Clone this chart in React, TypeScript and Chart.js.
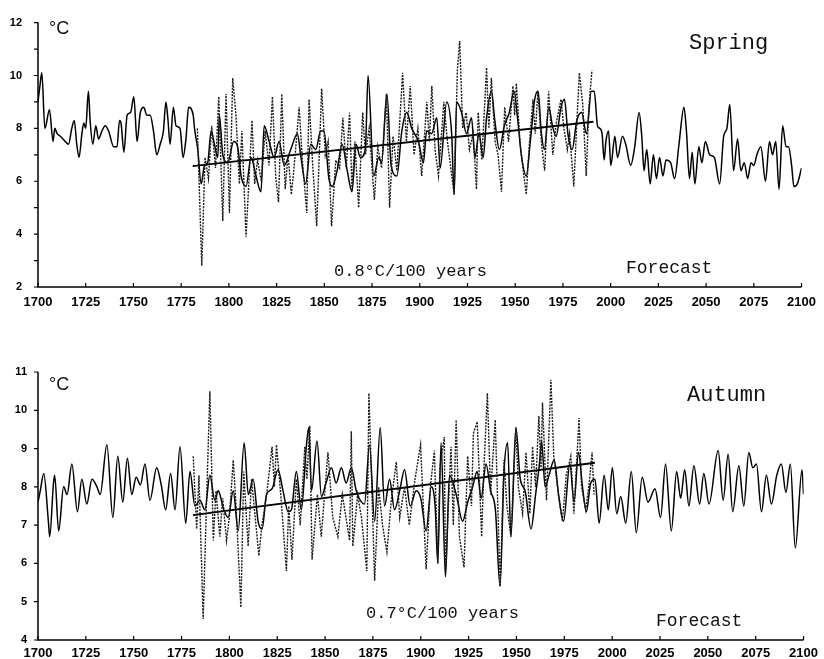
import React, { useEffect, useRef } from "react";
import { Chart, registerables } from "chart.js";

Chart.register(...registerables);

type Pt = [number, number];

// x-axis tick years (every 25 years)
const yearTicks: number[] = [1700, 1725, 1750, 1775, 1800, 1825, 1850, 1875, 1900, 1925, 1950, 1975, 2000, 2025, 2050, 2075, 2100];

// ---------------- Spring ----------------
const springModel: Pt[] = [
  [1700, 9.0], [1701, 9.6], [1702, 10.1], [1703.6, 8.0], [1706, 8.7], [1707.9, 7.5], [1708.8, 8.0], [1710, 7.8],
  [1711.7, 7.7], [1713, 7.6], [1714.3, 7.5], [1716, 7.4], [1717.7, 8.0], [1719, 8.3], [1720.3, 7.4], [1721.5, 6.9],
  [1723, 7.8], [1724, 8.2], [1725, 8.0], [1726.4, 9.4], [1727.3, 8.3], [1728.7, 7.4], [1730.3, 8.1], [1731.7, 7.6],
  [1733.5, 7.9], [1735.2, 8.1], [1737, 7.9], [1739.7, 7.3], [1741.4, 7.3], [1742.7, 8.3], [1743.5, 8.2], [1745, 7.1],
  [1746.7, 8.5], [1748.5, 8.6], [1750.2, 9.2], [1751.9, 7.5], [1753.6, 8.6], [1755.4, 8.8], [1757, 8.5], [1758.8, 8.5],
  [1760.5, 7.9], [1762.2, 7.0], [1764, 7.4], [1765.7, 7.9], [1767, 9.0], [1768, 8.4], [1769.2, 7.4], [1770.9, 8.8],
  [1772.3, 8.1], [1774.4, 8.0], [1776, 6.9], [1777.5, 7.6], [1778.9, 8.8], [1781.3, 8.5], [1782, 8.0], [1783.7, 7.2],
  [1785.5, 5.9], [1787.2, 6.6], [1788.9, 6.7], [1790.7, 7.9], [1792.4, 7.4], [1794.2, 6.9], [1795, 8.5], [1796.8, 7.0],
  [1799.4, 6.7], [1802.5, 7.5], [1804.6, 7.3], [1806.4, 6.2], [1809, 5.8], [1811.6, 6.9], [1814.2, 6.2], [1816.8, 5.6],
  [1818.5, 8.1], [1821.1, 7.5], [1823.7, 6.9], [1826.3, 7.5], [1829, 6.6], [1832.4, 7.2], [1835.9, 7.8], [1837.6, 7.0],
  [1840.2, 5.9], [1842.9, 7.4], [1845.5, 7.2], [1848.1, 7.9], [1849.8, 7.9], [1852.4, 6.1], [1854.1, 5.8], [1856.7, 6.4],
  [1859.3, 7.4], [1862, 6.4], [1864.5, 5.6], [1866.6, 7.4], [1868.9, 6.9], [1871.5, 7.2], [1872.9, 10.0], [1875.9, 6.2],
  [1878.5, 6.9], [1880, 6.7], [1882.8, 9.3], [1885, 6.6], [1888, 6.2], [1890.6, 7.9], [1893.2, 8.6], [1895.8, 8.0],
  [1899.3, 7.5], [1901.9, 6.7], [1903.6, 7.9], [1906.2, 7.8], [1908.9, 8.4], [1910.7, 6.5], [1914.1, 9.0], [1916.7, 7.8],
  [1918, 5.5], [1919.3, 9.0], [1921.9, 8.6], [1924.5, 7.8], [1927.1, 8.4], [1928.9, 6.9], [1931, 7.8], [1933.2, 6.9],
  [1935, 8.4], [1937.5, 9.4], [1939.3, 8.3], [1941.7, 7.2], [1944.3, 8.1], [1946.9, 8.6], [1949.4, 9.4], [1951.2, 8.4],
  [1953.2, 7.0], [1955.8, 6.2], [1957.9, 7.5], [1960.2, 9.1], [1962, 9.4], [1963.6, 7.9], [1965.3, 7.2], [1967.6, 8.8],
  [1969.5, 8.1], [1971.4, 7.7], [1974, 8.8], [1975.8, 9.1], [1977.6, 7.8], [1979.8, 7.2], [1982.3, 8.3], [1984.8, 8.6],
  [1987.3, 7.8], [1989.9, 9.4], [1991.4, 9.4], [1993.1, 8.1], [1994.3, 8.0], [1995.5, 7.8], [1996.6, 6.8], [1997.5, 7.5],
  [1998.9, 7.9], [2000.1, 6.6], [2002.2, 7.7], [2003.6, 6.9], [2006.2, 7.7], [2007.9, 7.4], [2010.5, 6.6], [2012.6, 7.3],
  [2014.9, 8.6], [2016.3, 7.7], [2017.5, 6.4], [2018.9, 7.2], [2020.7, 5.9], [2022.4, 7.0], [2024, 6.1], [2025.6, 6.9],
  [2027.4, 6.2], [2029, 6.8], [2031.4, 6.7], [2033.5, 6.1], [2035.8, 7.4], [2038.4, 8.8], [2039.7, 7.9], [2041.3, 6.1],
  [2042.7, 7.1], [2044.1, 5.9], [2046.2, 7.3], [2047.8, 6.7], [2049.6, 7.5], [2051.9, 7.0], [2054.3, 6.9], [2057.1, 5.9],
  [2059.2, 7.7], [2060.9, 8.0], [2062.4, 8.9], [2064.4, 6.4], [2066.5, 7.6], [2068.2, 6.4], [2070, 6.7], [2071.8, 6.1],
  [2073.5, 6.7], [2075, 6.6], [2076.6, 7.0], [2078.7, 7.3], [2081.1, 6.0], [2083.2, 7.5], [2084.8, 7.0], [2086.5, 7.5],
  [2088.2, 5.7], [2090.1, 8.1], [2091.9, 7.3], [2093.2, 7.3], [2094.8, 6.6], [2096, 5.8], [2097.8, 5.9], [2100, 6.5],
];

const springObserved: Pt[] = [
  [1783.5, 8.0], [1785.8, 2.8], [1787.5, 6.9], [1789.3, 6.1], [1791, 8.1], [1793, 6.5], [1794.7, 9.2], [1796.8, 4.5],
  [1798.5, 9.3], [1800.3, 4.8], [1802, 9.9], [1803.7, 8.5], [1805.5, 5.9], [1806.8, 7.9], [1809, 3.9], [1812.1, 8.3],
  [1813.5, 5.9], [1815, 6.8], [1817, 6.0], [1819, 7.9], [1821, 6.6], [1822.8, 9.2], [1824.6, 6.1], [1826, 5.2],
  [1827.7, 9.3], [1829.5, 5.7], [1831, 7.0], [1832.7, 5.5], [1834, 6.4], [1836.8, 8.8], [1838.5, 6.8], [1840.8, 4.8],
  [1842, 9.1], [1844, 6.5], [1846, 4.3], [1848.6, 9.5], [1850.5, 7.0], [1852, 7.5], [1853.8, 4.3], [1856, 6.8],
  [1858, 6.5], [1859.7, 8.4], [1861.5, 6.5], [1863.2, 8.6], [1864.5, 5.7], [1866, 7.5], [1868, 5.0], [1870.1, 8.6],
  [1871.5, 7.0], [1873.5, 8.0], [1876.2, 5.3], [1878, 7.3], [1880, 6.5], [1882.5, 9.3], [1884.2, 5.0], [1886, 7.7],
  [1888, 6.4], [1891, 10.1], [1893, 7.5], [1895, 9.6], [1897, 7.0], [1899, 8.0], [1901, 6.2], [1903.7, 9.0],
  [1905, 7.5], [1906.3, 9.6], [1908, 7.2], [1909.8, 6.2], [1912.6, 9.0], [1914.5, 7.5], [1918, 5.5], [1919.7, 10.2],
  [1920.9, 11.3], [1922.5, 8.0], [1924.3, 8.6], [1926, 7.2], [1928, 7.8], [1929.7, 5.7], [1930.6, 8.6], [1932.5, 6.8],
  [1935, 10.3], [1936.2, 8.0], [1937.5, 9.9], [1939.5, 7.5], [1941, 7.0], [1942.8, 5.6], [1944.5, 8.8], [1946.5, 7.5],
  [1948.8, 9.6], [1949.7, 8.5], [1950.6, 9.7], [1952.5, 7.5], [1954, 6.5], [1955.8, 5.5], [1957.5, 7.5], [1959.3, 9.1],
  [1960.5, 7.8], [1961.9, 9.4], [1963.8, 7.4], [1965.4, 6.4], [1967.5, 9.4], [1969.7, 7.0], [1971.5, 8.2], [1974, 9.1],
  [1975.5, 8.0], [1977.3, 7.2], [1978.5, 7.8], [1980.7, 5.8], [1982.4, 8.4], [1983.6, 10.1], [1985.4, 8.9], [1987.2, 6.2],
  [1988.5, 8.7], [1990.2, 10.2],
];

const springTrend: Pt[] = [[1781, 6.57], [1991, 8.25]];

// ---------------- Autumn ----------------
const autumnModel: Pt[] = [
  [1700, 7.6], [1701.2, 7.9], [1703, 8.35], [1705.5, 7.05], [1706.1, 6.7], [1708.1, 8.1], [1708.7, 8.3], [1710.8, 6.85],
  [1713.4, 8.0], [1715.2, 7.8], [1717.7, 8.6], [1720.6, 7.35], [1722.9, 8.2], [1725.5, 7.55], [1728.2, 8.2], [1730.8, 8.0],
  [1732.5, 7.8], [1736, 9.1], [1739.1, 7.2], [1741.7, 8.8], [1744.3, 7.6], [1746.7, 8.75], [1749, 7.8], [1751.3, 8.25],
  [1753.5, 8.05], [1755.9, 8.6], [1758.5, 7.65], [1762, 8.5], [1764.4, 8.05], [1766.7, 7.4], [1769.3, 8.35], [1771.6, 7.4],
  [1774.2, 9.05], [1777.2, 7.05], [1779.4, 8.4], [1782, 7.5], [1784.6, 7.65], [1787.2, 7.4], [1789.8, 8.3], [1792.4, 7.65],
  [1794.2, 7.9], [1796.8, 7.45], [1799.4, 7.2], [1802, 7.9], [1804.6, 6.85], [1807.7, 9.15], [1809.9, 7.8], [1812.4, 8.2],
  [1815, 7.1], [1817.1, 6.9], [1819.4, 7.8], [1822.3, 7.95], [1825.4, 8.45], [1828, 7.9], [1830.7, 7.35], [1832.4, 7.4],
  [1835, 8.4], [1837.6, 7.4], [1840.2, 9.05], [1841.5, 9.55], [1842.9, 7.9], [1845.8, 9.2], [1848.1, 7.75], [1850.5, 8.1],
  [1853.3, 8.5], [1855.8, 8.1], [1858.5, 8.5], [1861, 8.1], [1863.7, 8.5], [1866.3, 7.9], [1870.6, 7.55], [1873.2, 9.1],
  [1875.9, 7.1], [1878.8, 9.55], [1881.1, 7.5], [1883.7, 8.2], [1886.3, 7.4], [1889, 7.9], [1891.5, 8.45], [1894.5, 7.5],
  [1897.6, 7.9], [1900, 7.7], [1902.8, 6.85], [1905.5, 8.0], [1907.5, 7.5], [1908.9, 6.0], [1910.6, 9.15], [1912.9, 5.65],
  [1915, 8.3], [1918.5, 7.8], [1921.9, 7.1], [1924.5, 7.6], [1927.1, 8.0], [1929.5, 8.4], [1931.5, 7.7], [1934.1, 8.6],
  [1936.5, 7.9], [1939, 7.4], [1941.4, 5.4], [1943.5, 8.4], [1945.4, 9.15], [1947.1, 6.7], [1949.7, 9.55], [1952, 8.2],
  [1954.5, 7.9], [1957.6, 6.9], [1960, 7.8], [1962, 8.6], [1963.1, 9.2], [1965, 8.0], [1967, 8.3], [1969.7, 8.7],
  [1972, 7.8], [1974.6, 7.1], [1977.9, 8.6], [1980.1, 7.6], [1982.4, 8.9], [1984.5, 8.0], [1986.5, 7.35], [1988.8, 8.1],
  [1991, 8.2], [1993.2, 7.05], [1995.8, 8.3], [1998, 7.4], [2000.1, 8.5], [2002.4, 7.3], [2004.5, 7.75], [2007.1, 7.05],
  [2010, 8.4], [2012.6, 6.8], [2015.7, 8.25], [2018.7, 7.6], [2022.4, 7.95], [2025.3, 7.2], [2027.9, 8.6], [2030.9, 6.85],
  [2033.7, 8.4], [2035.8, 7.7], [2037.9, 8.45], [2040.1, 7.5], [2042.7, 8.55], [2045.7, 7.55], [2047.9, 8.35], [2050.6, 7.55],
  [2055.4, 8.95], [2058, 7.65], [2060.6, 8.85], [2063, 7.35], [2066.2, 8.55], [2068.8, 7.5], [2071.4, 8.9], [2073.5, 8.5],
  [2075.4, 8.6], [2078, 7.35], [2080.6, 8.3], [2083.2, 7.55], [2086, 8.3], [2088.4, 8.6], [2090.8, 7.85], [2093.1, 8.6],
  [2095.7, 6.4], [2099.2, 8.45], [2100, 7.8],
];

const autumnObserved: Pt[] = [
  [1781.1, 8.8], [1782.9, 6.9], [1784.1, 8.3], [1786.3, 4.55], [1788, 7.5], [1789.8, 10.5], [1791.6, 6.6], [1793, 7.9],
  [1795, 6.7], [1796.5, 7.7], [1798.5, 6.6], [1800, 7.2], [1802, 8.7], [1803.5, 7.5], [1806, 4.85], [1807.5, 8.4],
  [1809.8, 6.45], [1811.6, 8.2], [1813.5, 7.2], [1815.4, 6.2], [1817, 7.0], [1819.5, 7.8], [1822.3, 9.05], [1823.5, 8.0],
  [1824.6, 9.1], [1827, 7.7], [1829.8, 5.8], [1831, 7.5], [1832.7, 6.1], [1835, 8.2], [1837, 7.0], [1839.4, 9.05],
  [1840.5, 8.2], [1842, 9.6], [1843.2, 6.1], [1846, 7.8], [1848, 6.7], [1851.5, 8.9], [1854, 7.2], [1856.7, 6.7],
  [1859, 7.8], [1862.8, 6.6], [1863.7, 9.45], [1864.5, 6.45], [1867, 7.8], [1869, 7.2], [1871.8, 5.8], [1872.9, 10.45],
  [1875.9, 5.55], [1878, 8.0], [1880, 7.0], [1882.3, 6.3], [1884.5, 7.6], [1887.2, 8.65], [1889, 7.2], [1891.5, 8.0],
  [1894, 7.0], [1897, 8.2], [1899.9, 9.1], [1902.8, 5.85], [1905, 8.0], [1907.1, 8.95], [1908.9, 6.0], [1910, 8.5],
  [1912.3, 9.3], [1912.9, 5.7], [1915.8, 9.05], [1917, 7.0], [1918.5, 9.75], [1920.2, 6.7], [1922.6, 5.9], [1924.5, 8.8],
  [1926.5, 7.5], [1927.5, 9.4], [1929.5, 9.7], [1931.8, 6.7], [1933, 8.5], [1934.8, 10.45], [1936.5, 7.8], [1938.9, 9.75],
  [1941.5, 5.4], [1943.5, 8.7], [1945, 7.5], [1947.1, 6.7], [1949.7, 9.55], [1951, 8.0], [1953.2, 7.3], [1955, 8.9],
  [1957, 7.3], [1958.4, 9.05], [1960, 8.0], [1961.7, 9.85], [1962.8, 8.5], [1963.6, 10.2], [1965.7, 7.65], [1968, 10.8],
  [1969.5, 8.8], [1972.3, 7.65], [1974, 7.1], [1976, 8.3], [1978.4, 8.8], [1980, 7.3], [1982.7, 9.8], [1984, 8.0],
  [1986.2, 7.4], [1988, 8.1], [1989.5, 8.9], [1990.5, 7.8],
];

const autumnTrend: Pt[] = [[1781, 7.26], [1991, 8.63]];

// ---------------- texts ----------------
const springTexts = { unit: "°C", season: "Spring", rate: "0.8°C/100 years", forecast: "Forecast" };
const autumnTexts = { unit: "°C", season: "Autumn", rate: "0.7°C/100 years", forecast: "Forecast" };

const toXY = (pts: Pt[]) => pts.map(([x, y]) => ({ x, y }));

type TextItem = { text: string; x: number; y: number; font: string };

type PanelCfg = {
  model: Pt[];
  observed: Pt[];
  trend: Pt[];
  yMin: number;
  yMax: number;
  labelEvery: number;
  height: number;
  topPad: number;
  xAxisH: number;
  xLabelPad: number;
  yLabelPad: number;
  texts: TextItem[];
};

function buildChart(canvas: HTMLCanvasElement, p: PanelCfg) {
  const axisPlugin = {
    id: "customAxes",
    afterDraw(chart: any) {
      const { ctx, chartArea: a, scales } = chart;
      ctx.save();
      ctx.strokeStyle = "#000";
      ctx.lineWidth = 1.5;
      ctx.beginPath();
      ctx.moveTo(a.left, a.top);
      ctx.lineTo(a.left, a.bottom);
      ctx.lineTo(a.right, a.bottom);
      ctx.stroke();
      ctx.lineWidth = 1.2;
      ctx.beginPath();
      for (let v = p.yMin; v <= p.yMax; v++) {
        const y = scales.y.getPixelForValue(v);
        ctx.moveTo(a.left - 4, y);
        ctx.lineTo(a.left, y);
      }
      for (const yr of yearTicks) {
        const x = scales.x.getPixelForValue(yr);
        ctx.moveTo(x, a.bottom);
        ctx.lineTo(x, a.bottom - 4);
      }
      ctx.stroke();
      ctx.fillStyle = "#111";
      ctx.textBaseline = "alphabetic";
      ctx.textAlign = "left";
      for (const t of p.texts) {
        ctx.font = t.font;
        ctx.fillText(t.text, t.x, t.y);
      }
      ctx.restore();
    },
  };

  return new Chart(canvas, {
    type: "line",
    data: {
      datasets: [
        {
          data: toXY(p.observed),
          borderColor: "#1a1a1a",
          borderWidth: 1.4,
          borderDash: [2, 1.2],
          pointRadius: 0,
          tension: 0,
          fill: false,
        },
        {
          data: toXY(p.model),
          borderColor: "#000",
          borderWidth: 1.5,
          pointRadius: 0,
          cubicInterpolationMode: "monotone",
          fill: false,
        },
        {
          data: toXY(p.trend),
          borderColor: "#000",
          borderWidth: 1.8,
          pointRadius: 0,
          tension: 0,
          fill: false,
        },
      ],
    },
    options: {
      animation: false,
      responsive: false,
      devicePixelRatio: 1,
      parsing: false,
      normalized: true,
      layout: { padding: { top: p.topPad, right: 19, left: 0, bottom: 0 } },
      plugins: { legend: { display: false }, tooltip: { enabled: false } },
      scales: {
        x: {
          type: "linear",
          min: 1700,
          max: 2100,
          grid: { display: false, drawTicks: false },
          border: { display: false },
          afterBuildTicks: (s: any) => {
            s.ticks = yearTicks.map((v) => ({ value: v }));
          },
          afterFit: (s: any) => {
            s.height = p.xAxisH;
          },
          ticks: {
            autoSkip: false,
            maxRotation: 0,
            padding: p.xLabelPad,
            color: "#000",
            font: { family: "'Liberation Sans', Arial, sans-serif", size: 13, weight: "bold" },
            callback: (v: any) => String(v),
          },
        },
        y: {
          type: "linear",
          min: p.yMin,
          max: p.yMax,
          grid: { display: false, drawTicks: false },
          border: { display: false },
          afterFit: (s: any) => {
            s.width = 38;
          },
          ticks: {
            stepSize: 1,
            autoSkip: false,
            padding: p.yLabelPad,
            color: "#000",
            font: { family: "'Liberation Sans', Arial, sans-serif", size: 11, weight: "bold" },
            callback: (v: any) => (Number(v) % p.labelEvery === 0 ? String(v) : ""),
          },
        },
      },
    } as any,
    plugins: [axisPlugin],
  });
}

const mono = "'Liberation Mono', 'DejaVu Sans Mono', monospace";
const sans = "'Liberation Sans', Arial, sans-serif";

const springCfg: PanelCfg = {
  model: springModel,
  observed: springObserved,
  trend: springTrend,
  yMin: 2,
  yMax: 12,
  labelEvery: 2,
  height: 325,
  topPad: 15,
  xAxisH: 38,
  xLabelPad: 8,
  yLabelPad: 16,
  texts: [
    { text: springTexts.unit, x: 49, y: 34, font: `18px ${sans}` },
    { text: springTexts.season, x: 689, y: 49, font: `22px ${mono}` },
    { text: springTexts.rate, x: 334, y: 276, font: `17px ${mono}` },
    { text: springTexts.forecast, x: 626, y: 273, font: `18px ${mono}` },
  ],
};

const autumnCfg: PanelCfg = {
  model: autumnModel,
  observed: autumnObserved,
  trend: autumnTrend,
  yMin: 4,
  yMax: 11,
  labelEvery: 1,
  height: 334,
  topPad: 47,
  xAxisH: 19,
  xLabelPad: 6,
  yLabelPad: 11,
  texts: [
    { text: autumnTexts.unit, x: 49, y: 65, font: `18px ${sans}` },
    { text: autumnTexts.season, x: 687, y: 76, font: `22px ${mono}` },
    { text: autumnTexts.rate, x: 366, y: 293, font: `17px ${mono}` },
    { text: autumnTexts.forecast, x: 656, y: 301, font: `18px ${mono}` },
  ],
};

function Panel({ cfg, top }: { cfg: PanelCfg; top: number }) {
  const ref = useRef<HTMLCanvasElement>(null);
  useEffect(() => {
    if (!ref.current) return;
    const chart = buildChart(ref.current, cfg);
    return () => chart.destroy();
  }, [cfg]);
  return (
    <canvas
      ref={ref}
      width={824}
      height={cfg.height}
      style={{ position: "absolute", left: 0, top, width: 824, height: cfg.height, display: "block" }}
    />
  );
}

export default function App() {
  return (
    <div style={{ position: "absolute", left: 0, top: 0, width: 824, height: 659, background: "#fff", overflow: "hidden" }}>
      <Panel cfg={springCfg} top={0} />
      <Panel cfg={autumnCfg} top={325} />
    </div>
  );
}
